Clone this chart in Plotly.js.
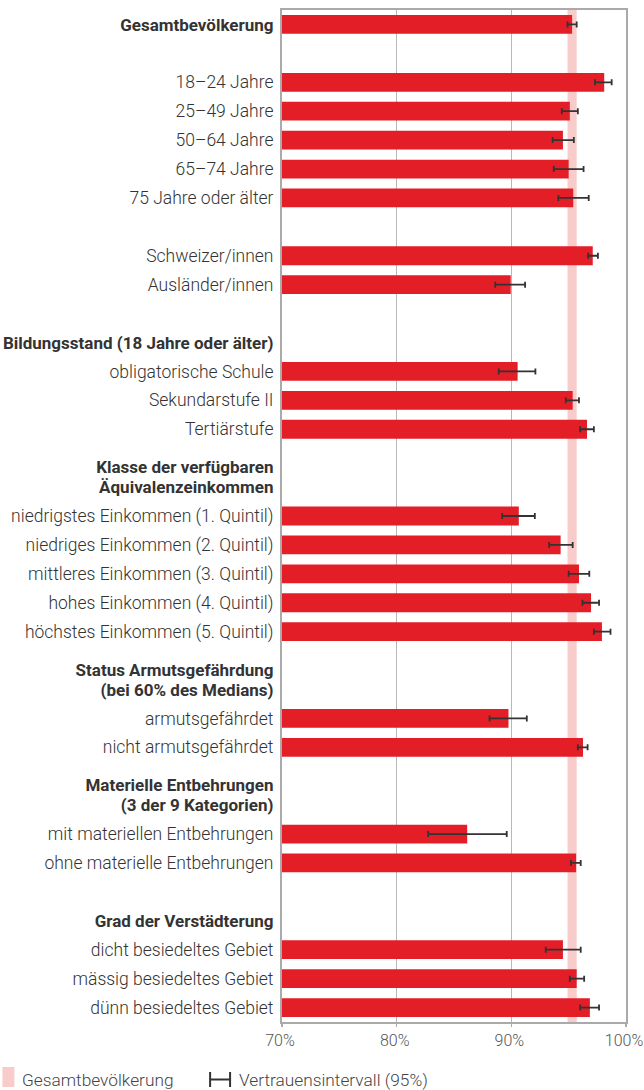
<!DOCTYPE html>
<html><head><meta charset="utf-8">
<script src="https://cdn.plot.ly/plotly-3.0.1.min.js"></script>
<style>html,body{margin:0;padding:0;background:#fff}</style>
</head><body><div id="chart" style="width:644px;height:1090px"></div>
<script>
// Row labels (blank rows = "", headers in bold)
const labels = [
  "<b>Gesamtbevölkerung</b>", "",
  "18–24 Jahre", "25–49 Jahre", "50–64 Jahre", "65–74 Jahre", "75 Jahre oder älter", "",
  "Schweizer/innen", "Ausländer/innen", "",
  "<b>Bildungsstand (18 Jahre oder älter)</b>",
  "obligatorische Schule", "Sekundarstufe II", "Tertiärstufe", "",
  "<b>Klasse der verfügbaren</b><br><b>Äquivalenzeinkommen</b>",
  "niedrigstes Einkommen (1. Quintil)", "niedriges Einkommen (2. Quintil)", "mittleres Einkommen (3. Quintil)",
  "hohes Einkommen (4. Quintil)", "höchstes Einkommen (5. Quintil)", "",
  "<b>Status Armutsgefährdung</b><br><b>(bei 60% des Medians)</b>",
  "armutsgefährdet", "nicht armutsgefährdet", "",
  "<b>Materielle Entbehrungen</b><br><b>(3 der 9 Kategorien)</b>",
  "mit materiellen Entbehrungen", "ohne materielle Entbehrungen", "",
  "<b>Grad der Verstädterung</b>",
  "dicht besiedeltes Gebiet", "mässig besiedeltes Gebiet", "dünn besiedeltes Gebiet"
];
// Share in % (null = header / blank row)
const values = [
  95.3, null,
  98.1, 95.1, 94.5, 95.0, 95.4, null,
  97.1, 89.95, null,
  null,
  90.55, 95.35, 96.6, null,
  null,
  90.65, 94.3, 95.9, 96.95, 97.9, null,
  null,
  89.75, 96.25, null,
  null,
  86.15, 95.65, null,
  null,
  94.5, 95.7, 96.85
];
// 95% confidence interval bounds
const ciLow = [
  94.9, null,
  97.3, 94.4, 93.6, 93.7, 94.1, null,
  96.7, 88.6, null,
  null,
  88.9, 94.75, 96.0, null,
  null,
  89.2, 93.3, 95.0, 96.2, 97.2, null,
  null,
  88.1, 95.8, null,
  null,
  82.75, 95.2, null,
  null,
  93.0, 95.1, 96.0
];
const ciHigh = [
  95.7, null,
  98.75, 95.8, 95.45, 96.3, 96.75, null,
  97.55, 91.2, null,
  null,
  92.1, 95.9, 97.2, null,
  null,
  92.05, 95.35, 96.8, 97.65, 98.65, null,
  null,
  91.35, 96.65, null,
  null,
  89.6, 96.05, null,
  null,
  96.05, 96.35, 97.65
];
const xTickVals = [70, 80, 90, 100];
const xTickText = ["70%", "80%", "90%", "100%"];
const legendBand = "Gesamtbevölkerung";
const legendCI = "Vertrauensintervall (95%)";

const rows = labels.map((_, i) => i);
const errPlus = values.map((v, i) => v == null ? null : ciHigh[i] - v);
const errMinus = values.map((v, i) => v == null ? null : v - ciLow[i]);

// each line of a label becomes its own tick, last line on the row
const lineStep = 0.69;
const tickVals = [], tickText = [];
labels.forEach((l, i) => {
  if (!l) return;
  const parts = l.split("<br>");
  parts.forEach((p, k) => {
    tickVals.push(i - (parts.length - 1 - k) * lineStep);
    tickText.push(p.startsWith("<b>") ? '<span style="font-size:17px">' + p + '</span>' : p);
  });
});

const W = 644, H = 1090;
const mL = 282, mR = 17.5, mT = 10, mB = 68;
const pw = W - mL - mR, ph = H - mT - mB;
const px = x => (x - mL) / pw;
const py = y => (H - mB - y) / ph;

const trace = {
  type: "bar", orientation: "h",
  x: values, y: rows,
  width: 0.65,
  marker: {color: "#e31e27", line: {width: 0}},
  error_x: {type: "data", symmetric: false, array: errPlus, arrayminus: errMinus,
            color: "#333333", thickness: 1.8, width: 3},
  hoverinfo: "x+y", showlegend: false
};

const FS = 17.5;
const layout = {
  width: W, height: H,
  margin: {l: mL, r: mR, t: mT, b: mB, pad: 0},
  paper_bgcolor: "#ffffff", plot_bgcolor: "#ffffff",
  font: {family: "Roboto, 'Open Sans', sans-serif", size: FS, color: "#333333", weight: 300},
  showlegend: false,
  xaxis: {
    range: [70, 100], tickvals: xTickVals, ticktext: xTickText,
    showgrid: true, gridcolor: "#b8b8b8", gridwidth: 1.5, zeroline: false,
    showline: true, linecolor: "#aaaaaa", linewidth: 2, mirror: true,
    ticks: "outside", ticklen: 3, tickcolor: "#aaaaaa", tickwidth: 1.5,
    ticklabeloverflow: "allow", ticklabelshift: -2,
    tickfont: {family: "Roboto, sans-serif", size: 16, color: "#555555", weight: 300},
    fixedrange: true
  },
  yaxis: {
    range: [34.5, -0.5], tickvals: tickVals, ticktext: tickText,
    showgrid: false, zeroline: false,
    showline: true, linecolor: "#aaaaaa", linewidth: 2, mirror: true,
    ticks: "", ticklabelstandoff: 3, ticklabeloverflow: "allow",
    tickfont: {family: "Roboto, sans-serif", size: FS, color: "#333333", weight: 300},
    fixedrange: true
  },
  shapes: [
    {type: "rect", xref: "x", yref: "paper", x0: ciLow[0], x1: ciHigh[0], y0: 0, y1: 1,
     fillcolor: "#f9cccc", line: {width: 0}, layer: "below"},
    // legend: band swatch
    {type: "rect", xref: "paper", yref: "paper", x0: px(2), x1: px(14), y0: py(1087), y1: py(1067),
     fillcolor: "#f9cccc", line: {width: 0}},
    // legend: CI symbol
    {type: "line", xref: "paper", yref: "paper", x0: px(210), x1: px(230), y0: py(1079.5), y1: py(1079.5),
     line: {color: "#333333", width: 2}},
    {type: "line", xref: "paper", yref: "paper", x0: px(210), x1: px(210), y0: py(1072), y1: py(1087),
     line: {color: "#333333", width: 2}},
    {type: "line", xref: "paper", yref: "paper", x0: px(230), x1: px(230), y0: py(1072), y1: py(1087),
     line: {color: "#333333", width: 2}}
  ],
  annotations: [
    {xref: "paper", yref: "paper", x: px(20), y: py(1080), xanchor: "left", yanchor: "middle",
     text: legendBand, showarrow: false, font: {size: 17.3, color: "#444444", weight: 300}},
    {xref: "paper", yref: "paper", x: px(237), y: py(1080), xanchor: "left", yanchor: "middle",
     text: legendCI, showarrow: false, font: {size: 17.3, color: "#444444", weight: 300}}
  ]
};

Plotly.newPlot("chart", [trace], layout, {displayModeBar: false, staticPlot: true});
</script>
</body></html>
